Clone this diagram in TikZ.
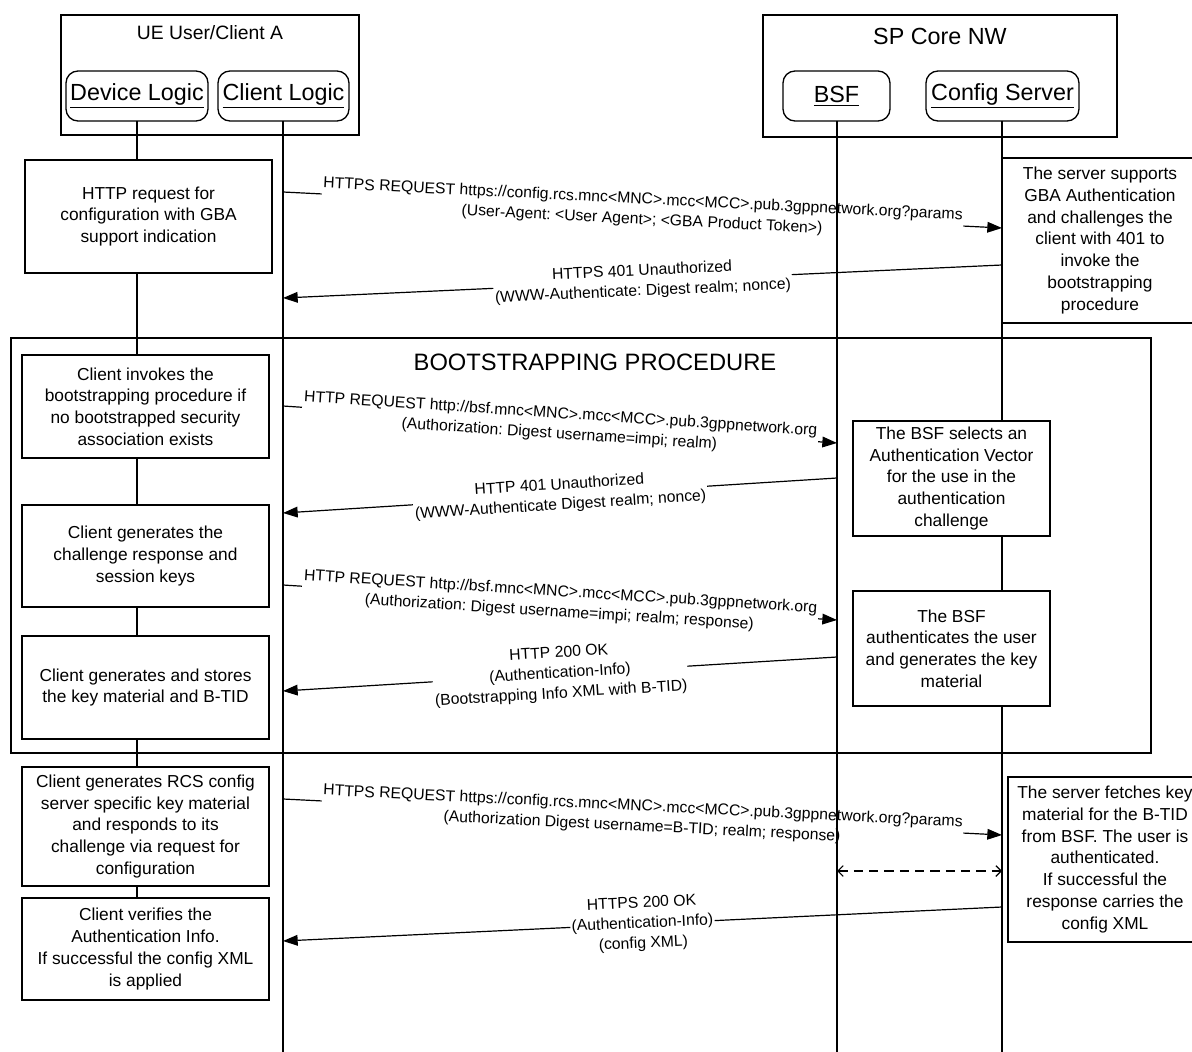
\documentclass[tikz,border=0pt]{standalone}
\usepackage{fontspec}
\setmainfont{Liberation Sans}
\usetikzlibrary{arrows.meta}
\frenchspacing
\newcommand\bxfont{\fontsize{13}{16.3}\selectfont}
\newcommand\msgfont{\fontsize{11.8}{15.2}\selectfont}
\newcommand\hdfont{\fontsize{17.5}{20}\selectfont}
\begin{document}
\begin{tikzpicture}[x=0.75pt,y=-0.75pt,
  hdrbox/.style={draw, line width=1pt, minimum height=37.5pt, rounded corners=9pt, font=\hdfont, inner sep=0pt},
  grpbox/.style={draw, line width=1pt},
  actbox/.style={draw, line width=1pt, fill=white, align=center, font=\bxfont, inner sep=0pt},
  life/.style={line width=0.9pt},
  msg/.style={line width=0.9pt, -{Triangle[length=11pt,width=8pt]}},
  lbl/.style={midway, sloped, fill=white, align=center, font=\msgfont, inner sep=1pt},
  dmsg/.style={line width=0.9pt, dash pattern=on 7pt off 4.5pt, {Straight Barb[length=4pt,width=8pt]}-{Straight Barb[length=4pt,width=8pt]}},
  frm/.style={draw, line width=1.5pt}
]
\useasboundingbox (0,0) rectangle (1192,1052);
\clip (0,0) rectangle (1192,1052);
\fill[white] (0,0) rectangle (1192,1052);

% group boxes
\node[grpbox, minimum width=223.5pt, minimum height=90pt] (ue) at (210,75) {};
\node[font=\fontsize{14.5}{17}\selectfont] (uet) at (210,33) {UE User/Client A};
\node[grpbox, minimum width=265.5pt, minimum height=91.5pt] (sp) at (940,76) {};
\node[font=\fontsize{17.5}{20}\selectfont] (spt) at (940,36) {SP Core NW};

% participants
\node[hdrbox, minimum width=106.5pt] (dev) at (137,96) {\underline{Device Logic}};
\node[hdrbox, minimum width=98.25pt] (cl) at (283.5,96) {\underline{Client Logic}};
\node[hdrbox, minimum width=80.25pt] (bsf) at (836.5,96) {\underline{BSF}};
\node[hdrbox, minimum width=114.75pt] (cfg) at (1002.5,96) {\underline{Config Server}};

% lifeline endpoints
\coordinate (Dtop) at (137,121);
\coordinate (Ctop) at (283,121);
\coordinate (Btop) at (837,121);
\coordinate (Stop) at (1002,121);
\coordinate (Dend) at (137,1000);
\coordinate (Cend) at (283,1052);
\coordinate (Bend) at (837,1052);
\coordinate (Send) at (1002,1052);

% message coordinates
\coordinate (m1a) at (283,192);  \coordinate (m1b) at (1002,228);
\coordinate (m2a) at (1002,265); \coordinate (m2b) at (283,298);
\coordinate (m3a) at (283,406);  \coordinate (m3b) at (837,443);
\coordinate (m4a) at (837,478);  \coordinate (m4b) at (283,513);
\coordinate (m5a) at (283,585);  \coordinate (m5b) at (837,620);
\coordinate (m6a) at (837,657);  \coordinate (m6b) at (283,691);
\coordinate (m7a) at (283,799);  \coordinate (m7b) at (1002,835);
\coordinate (d1) at (837,871);   \coordinate (d2) at (1002,871);
\coordinate (m8a) at (1002,907); \coordinate (m8b) at (283,941);

% messages
\draw[msg] (m1a) -- node[lbl] {HTTPS REQUEST https://config.rcs.mnc<MNC>.mcc<MCC>.pub.3gppnetwork.org?params\\(User-Agent: <User Agent>; <GBA Product Token>)} (m1b);
\draw[msg] (m2a) -- node[lbl] {HTTPS 401 Unauthorized\\(WWW-Authenticate: Digest realm; nonce)} (m2b);
\draw[msg] (m3a) -- node[lbl] {HTTP REQUEST http://bsf.mnc<MNC>.mcc<MCC>.pub.3gppnetwork.org\\(Authorization: Digest username=impi; realm)} (m3b);
\draw[msg] (m4a) -- node[lbl] {HTTP 401 Unauthorized\\(WWW-Authenticate Digest realm; nonce)} (m4b);
\draw[msg] (m5a) -- node[lbl] {HTTP REQUEST http://bsf.mnc<MNC>.mcc<MCC>.pub.3gppnetwork.org\\(Authorization: Digest username=impi; realm; response)} (m5b);
\draw[msg] (m6a) -- node[lbl] {HTTP 200 OK\\(Authentication-Info)\\(Bootstrapping Info XML with B-TID)} (m6b);
\draw[msg] (m7a) -- node[lbl] {HTTPS REQUEST https://config.rcs.mnc<MNC>.mcc<MCC>.pub.3gppnetwork.org?params\\(Authorization Digest username=B-TID; realm; response)} (m7b);
\draw[dmsg] (d1) -- (d2);
\draw[msg] (m8a) -- node[lbl] {HTTPS 200 OK\\(Authentication-Info)\\(config XML)} (m8b);

% lifelines
\draw[life] (Dtop) -- (Dend);
\draw[life] (Ctop) -- (Cend);
\draw[life] (Btop) -- (Bend);
\draw[life] (Stop) -- (Send);

% bootstrapping frame
\node[frm, minimum width=855pt, minimum height=311.25pt, inner sep=0pt] (boot) at (581,545.5) {};
\node[font=\fontsize{17.8}{20}\selectfont] (boott) at (595,362) {BOOTSTRAPPING PROCEDURE};

% client-side action boxes
\node[actbox, minimum width=185.25pt, minimum height=84.75pt] (a1) at (148.5,216.5) {HTTP request for\\configuration with GBA\\support indication};
\node[actbox, minimum width=185.25pt, minimum height=77.25pt] (a2) at (145.5,406.5) {Client invokes the\\bootstrapping procedure if\\no bootstrapped security\\association exists};
\node[actbox, minimum width=185.25pt, minimum height=76.5pt] (a3) at (145.5,556) {Client generates the\\challenge response and\\session keys};
\node[actbox, minimum width=185.25pt, minimum height=77.25pt] (a4) at (145.5,687.5) {Client generates and stores\\the key material and B-TID};
\node[actbox, minimum width=185.25pt, minimum height=89.25pt] (a5) at (145.5,826.5) {Client generates RCS config\\server specific key material\\and responds to its\\challenge via request for\\configuration};
\node[actbox, minimum width=185.25pt, minimum height=76.5pt] (a6) at (145.5,949) {Client verifies the\\Authentication Info.\\If successful the config XML\\is applied};

% BSF boxes
\node[actbox, minimum width=147.75pt, minimum height=86.25pt] (b1) at (951.5,478.5) {The BSF selects an\\Authentication Vector\\for the use in the\\authentication\\challenge};
\node[actbox, minimum width=147.75pt, minimum height=86.25pt] (b2) at (951.5,648.5) {The BSF\\authenticates the user\\and generates the key\\material};

% config server boxes
\node[actbox, minimum width=147pt, minimum height=123.75pt] (s1) at (1100,240.5) {The server supports\\GBA Authentication\\and challenges the\\client with 401 to\\invoke the\\bootstrapping\\procedure};
\node[actbox, minimum width=145.5pt, minimum height=123.75pt] (s2) at (1105,859.5) {The server fetches key\\material for the B-TID\\from BSF. The user is\\authenticated.\\If successful the\\response carries the\\config XML};
\end{tikzpicture}
\end{document}
